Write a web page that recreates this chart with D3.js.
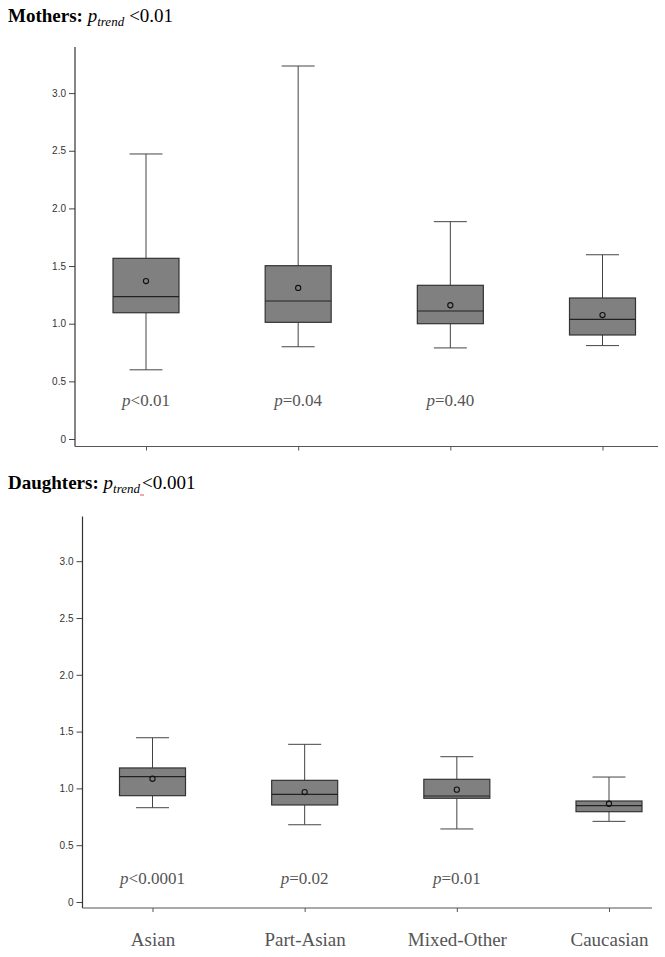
<!DOCTYPE html>
<html>
<head>
<meta charset="utf-8">
<script src="https://cdn.jsdelivr.net/npm/d3@7"></script>
<style>
  body { margin: 0; background: #fff; }
  svg { display: block; }
</style>
</head>
<body>
<svg id="chart" width="665" height="957"></svg>
<script>
// categories and box statistics
const categories = ["Asian", "Part-Asian", "Mixed-Other", "Caucasian"];

const mothersLow    = [0.60, 0.80, 0.79, 0.81];
const mothersQ1     = [1.095, 1.012, 1.00, 0.902];
const mothersMedian = [1.234, 1.197, 1.11, 1.038];
const mothersQ3     = [1.567, 1.503, 1.333, 1.223];
const mothersHigh   = [2.472, 3.235, 1.885, 1.598];
const mothersMean   = [1.37, 1.31, 1.16, 1.075];
const mothersP      = ["<0.01", "=0.04", "=0.40", null];

const daughtersLow    = [0.83, 0.68, 0.643, 0.71];
const daughtersQ1     = [0.936, 0.854, 0.913, 0.795];
const daughtersMedian = [1.103, 0.948, 0.933, 0.848];
const daughtersQ3     = [1.18, 1.071, 1.08, 0.889];
const daughtersHigh   = [1.446, 1.388, 1.279, 1.10];
const daughtersMean   = [1.085, 0.968, 0.989, 0.865];
const daughtersP      = ["<0.0001", "=0.02", "=0.01", null];

const yTicks = [0, 0.5, 1.0, 1.5, 2.0, 2.5, 3.0];

const svg = d3.select("#chart");
const serif = "'Liberation Serif', 'DejaVu Serif', serif";
const sans = "'Liberation Sans', Arial, sans-serif";

function makeRows(low, q1, med, q3, high, mean, p) {
    return categories.map((c, i) => ({
        cat: c, low: low[i], q1: q1[i], median: med[i], q3: q3[i], high: high[i], mean: mean[i], p: p[i]
    }));
}

function drawTitle(y, label, trend, gap) {
    const t = svg.append("text")
        .attr("x", 8)
        .attr("y", y)
        .style("font-family", serif)
        .style("font-size", "19px")
        .style("fill", "#000");
    t.append("tspan").style("font-weight", "bold").text(label + " ");
    t.append("tspan").style("font-style", "italic").text("p");
    const sub = t.append("tspan").style("font-style", "italic").style("font-size", "13px")
        .attr("dy", 4).text("trend");
    t.append("tspan").attr("dy", -4).attr("dx", gap).text(trend);
    return sub;
}

function drawPanel(rows, cfg) {
    const g = svg.append("g");

    const y = d3.scaleLinear()
        .domain([0, 3])
        .range([cfg.zeroY, cfg.zeroY - 3 * cfg.unit]);
    const x = d3.scalePoint()
        .domain(categories)
        .range([cfg.firstX, cfg.lastX]);

    // y axis
    const yAxis = g.append("g")
        .attr("transform", `translate(${cfg.axisX}, 0)`)
        .call(d3.axisLeft(y)
            .tickValues(yTicks)
            .tickSize(6)
            .tickPadding(3)
            .tickFormat(d => d === 0 ? "0" : d3.format(".1f")(d)));
    yAxis.select(".domain").remove();
    yAxis.selectAll(".tick line").attr("stroke", "#444");
    yAxis.selectAll(".tick text")
        .style("font-family", sans)
        .style("font-size", "10px")
        .style("fill", "#333");
    g.append("line")
        .attr("x1", cfg.axisX).attr("x2", cfg.axisX)
        .attr("y1", cfg.axisTop).attr("y2", cfg.axisBottom)
        .attr("stroke", "#333").attr("stroke-width", 1.2);

    // x axis
    const xAxis = g.append("g")
        .attr("transform", `translate(0, ${cfg.axisBottom})`)
        .call(d3.axisBottom(x).tickSize(4).tickFormat(cfg.showLabels ? d => d : ""));
    xAxis.select(".domain").remove();
    xAxis.selectAll(".tick line").attr("stroke", "#555");
    xAxis.selectAll(".tick text")
        .attr("dy", 0)
        .attr("y", 38)
        .style("font-family", serif)
        .style("font-size", "19px")
        .style("fill", "#555");
    g.append("line")
        .attr("x1", cfg.axisX).attr("x2", cfg.axisRight)
        .attr("y1", cfg.axisBottom).attr("y2", cfg.axisBottom)
        .attr("stroke", "#555").attr("stroke-width", 1.2);

    const boxW = 66, capW = 33;
    const boxes = g.selectAll(".box")
        .data(rows)
        .enter()
        .append("g")
        .attr("class", "box");

    // whiskers
    boxes.append("line")
        .attr("x1", d => x(d.cat)).attr("x2", d => x(d.cat))
        .attr("y1", d => y(d.high)).attr("y2", d => y(d.q3))
        .attr("stroke", "#444");
    boxes.append("line")
        .attr("x1", d => x(d.cat)).attr("x2", d => x(d.cat))
        .attr("y1", d => y(d.q1)).attr("y2", d => y(d.low))
        .attr("stroke", "#444");
    boxes.append("line")
        .attr("x1", d => x(d.cat) - capW / 2).attr("x2", d => x(d.cat) + capW / 2)
        .attr("y1", d => y(d.high)).attr("y2", d => y(d.high))
        .attr("stroke", "#444");
    boxes.append("line")
        .attr("x1", d => x(d.cat) - capW / 2).attr("x2", d => x(d.cat) + capW / 2)
        .attr("y1", d => y(d.low)).attr("y2", d => y(d.low))
        .attr("stroke", "#444");

    // box
    boxes.append("rect")
        .attr("x", d => x(d.cat) - boxW / 2)
        .attr("y", d => y(d.q3))
        .attr("width", boxW)
        .attr("height", d => y(d.q1) - y(d.q3))
        .attr("fill", "#808080")
        .attr("stroke", "#333")
        .attr("stroke-width", 1.2);

    // median
    boxes.append("line")
        .attr("x1", d => x(d.cat) - boxW / 2).attr("x2", d => x(d.cat) + boxW / 2)
        .attr("y1", d => y(d.median)).attr("y2", d => y(d.median))
        .attr("stroke", "#222").attr("stroke-width", 1.2);

    // mean marker
    boxes.append("circle")
        .attr("cx", d => x(d.cat))
        .attr("cy", d => y(d.mean))
        .attr("r", 2.6)
        .attr("fill", "none")
        .attr("stroke", "#111")
        .attr("stroke-width", 1.1);

    // p values
    const pt = boxes.filter(d => d.p)
        .append("text")
        .attr("x", d => x(d.cat))
        .attr("y", cfg.pY)
        .attr("text-anchor", "middle")
        .style("font-family", serif)
        .style("font-size", "17px")
        .style("fill", "#555");
    pt.append("tspan").style("font-style", "italic").text("p");
    pt.append("tspan").text(d => d.p);
}

drawTitle(22, "Mothers:", "<0.01", 5);
drawPanel(makeRows(mothersLow, mothersQ1, mothersMedian, mothersQ3, mothersHigh, mothersMean, mothersP), {
    axisX: 75, axisTop: 47, axisBottom: 446.5, axisRight: 658,
    zeroY: 439, unit: 115.3, firstX: 146, lastX: 602.5, pY: 406, showLabels: false
});

drawTitle(489, "Daughters:", "<0.001", 2);
// small red spell-check mark under the subscript, as in the source image
svg.append("line")
    .attr("x1", 140).attr("x2", 144)
    .attr("y1", 495).attr("y2", 495)
    .attr("stroke", "#e05050").attr("stroke-width", 1);
drawPanel(makeRows(daughtersLow, daughtersQ1, daughtersMedian, daughtersQ3, daughtersHigh, daughtersMean, daughtersP), {
    axisX: 82.5, axisTop: 516.5, axisBottom: 908, axisRight: 652,
    zeroY: 902, unit: 113.6, firstX: 152.5, lastX: 609, pY: 884, showLabels: true
});
</script>
</body>
</html>
